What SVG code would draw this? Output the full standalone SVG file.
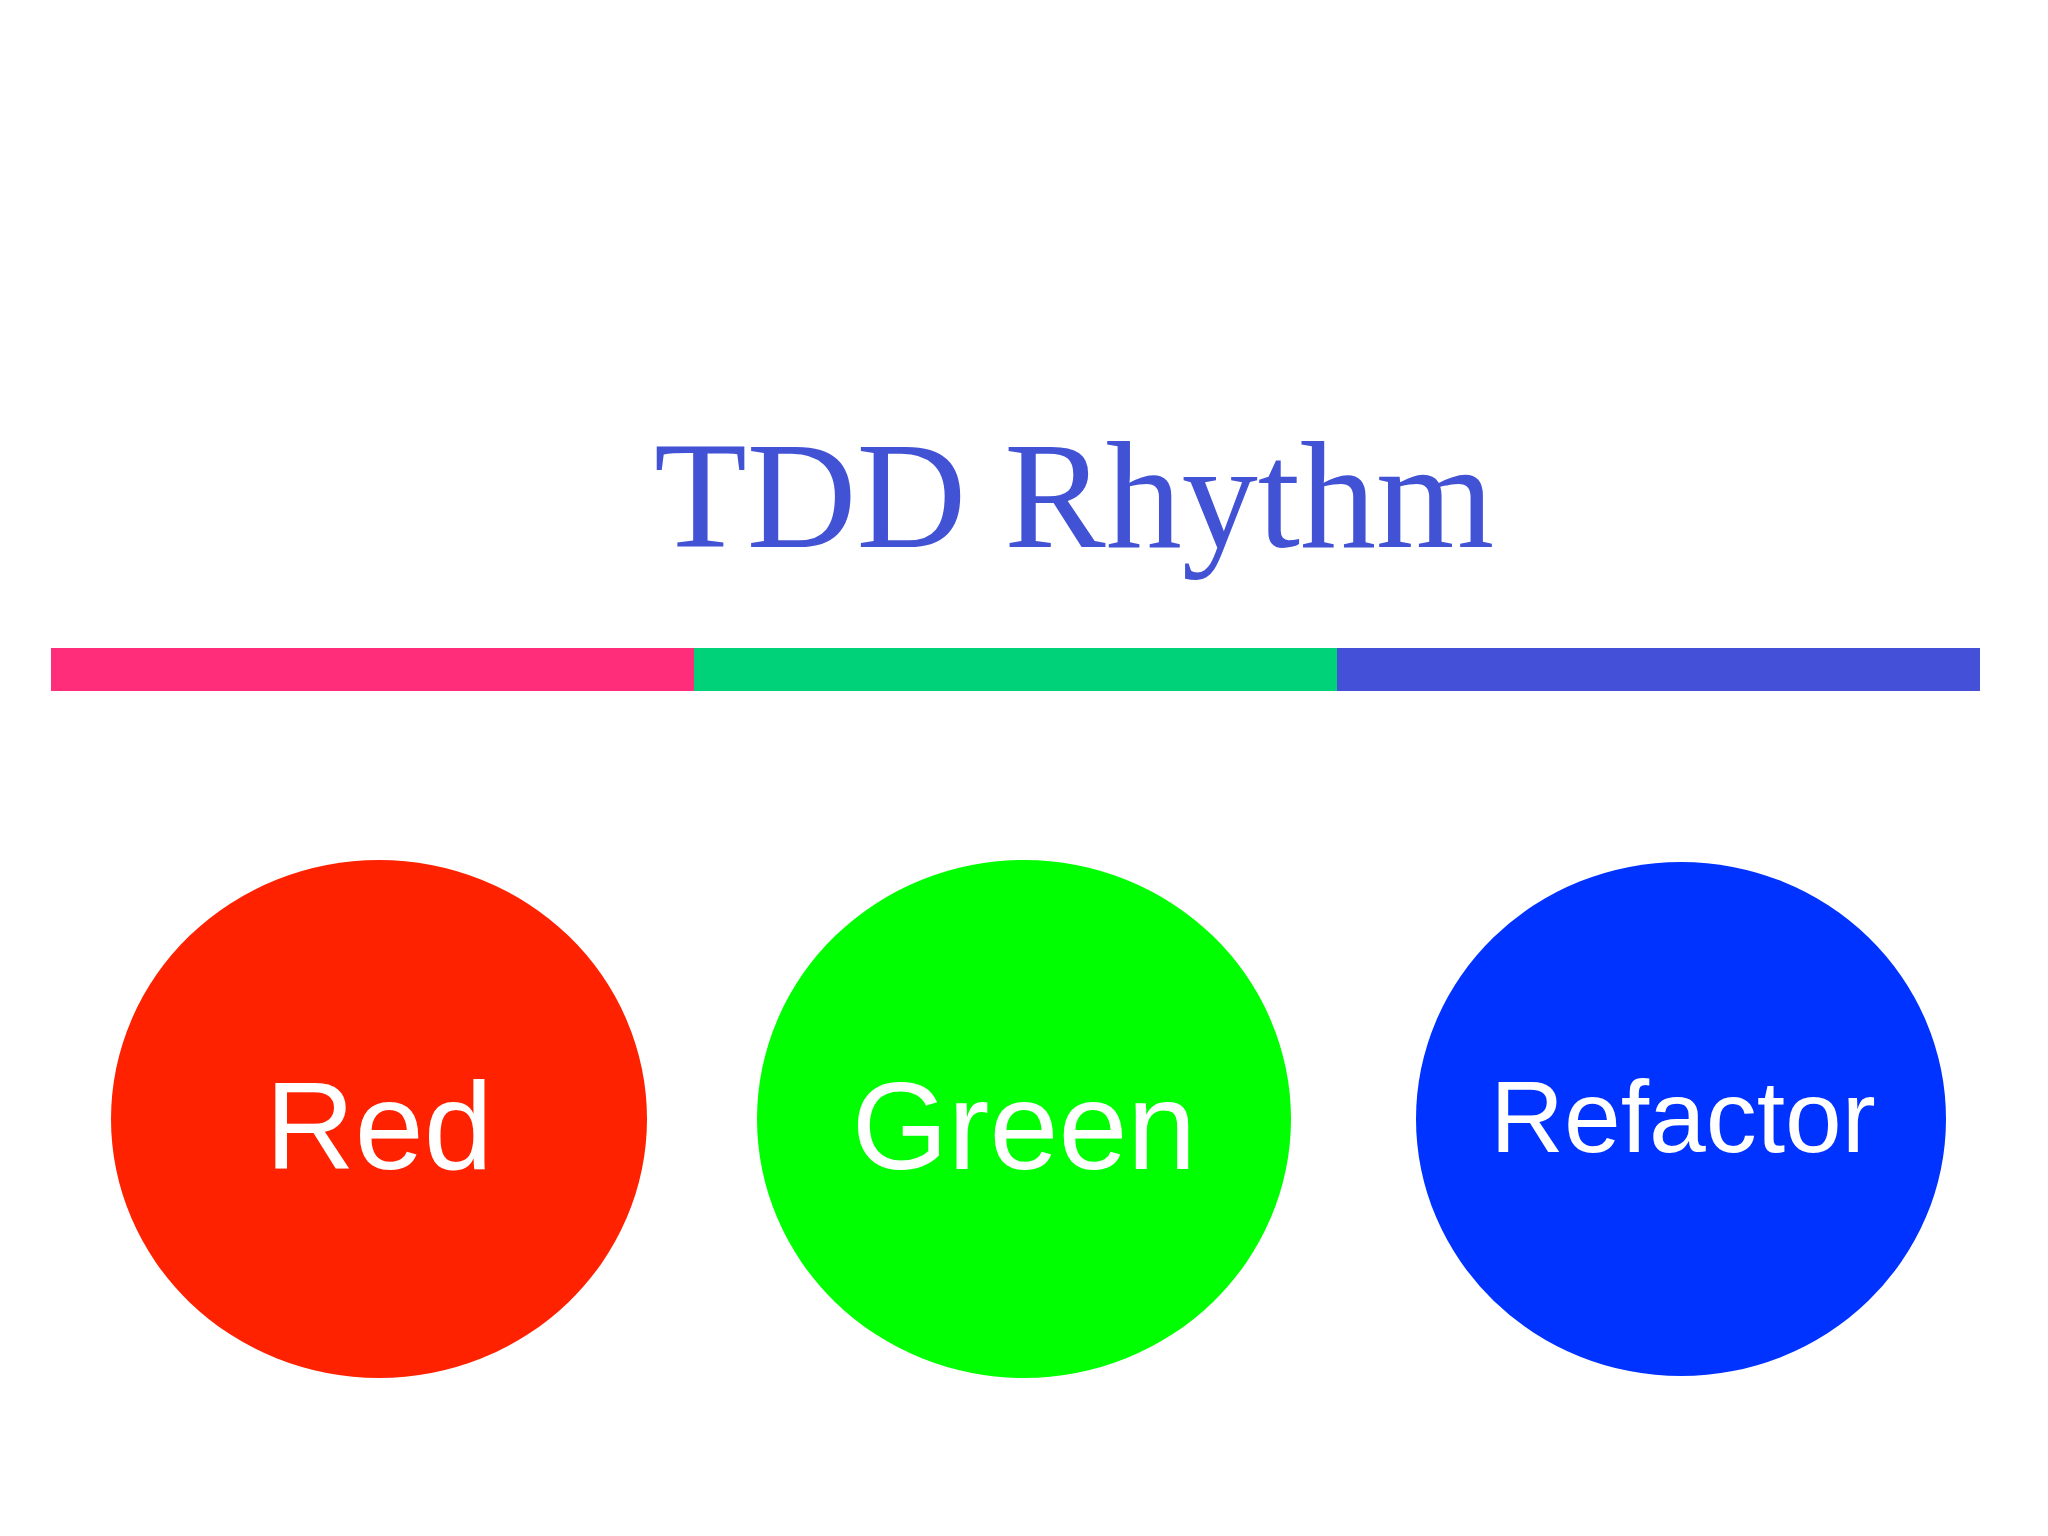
<svg xmlns="http://www.w3.org/2000/svg" width="2048" height="1536" viewBox="0 0 2048 1536">
<style>
.lbl{font-family:"Liberation Sans",Arial,sans-serif;fill:#fff;text-anchor:middle}
</style>
<rect width="2048" height="1536" fill="#fff"/>
<text x="1074" y="547" font-family="Liberation Serif,serif" font-size="152" fill="#4252D4" text-anchor="middle">TDD Rhythm</text>
<g id="bar">
<rect x="51" y="648" width="643" height="43" fill="#FF2D7A"/>
<rect x="694" y="648" width="643" height="43" fill="#00D27A"/>
<rect x="1337" y="648" width="643" height="43" fill="#4550D8"/>
</g>
<g id="red"><ellipse cx="379" cy="1119" rx="268" ry="259" fill="#FF2200"/><text class="lbl" x="379" y="1169" font-size="124">Red</text></g>
<g id="green"><ellipse cx="1024" cy="1119" rx="267" ry="259" fill="#00FF00"/><text class="lbl" x="1024" y="1169" font-size="124">Green</text></g>
<g id="refactor"><ellipse cx="1681" cy="1119" rx="265" ry="257" fill="#0033FF"/><text class="lbl" x="1683" y="1152" font-size="102">Refactor</text></g>
<g id="connectors"/>
</svg>
